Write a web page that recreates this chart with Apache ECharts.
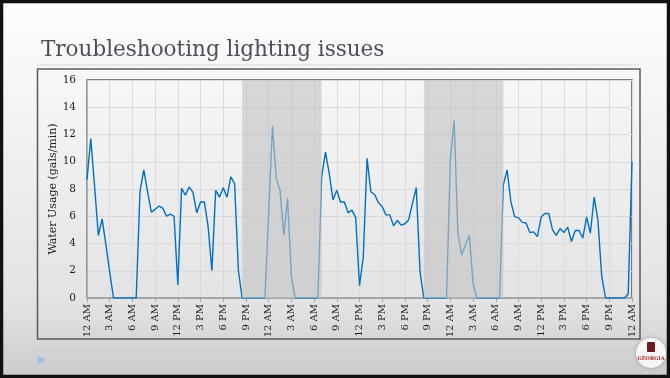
<!DOCTYPE html>
<html>
<head>
<meta charset="utf-8">
<script src="https://cdn.jsdelivr.net/npm/echarts@6.0.0/dist/echarts.min.js"></script>
<style>
  html, body { margin: 0; padding: 0; }
  #chart { width: 670px; height: 378px; }
</style>
</head>
<body>
<div id="chart"></div>
<script>
// half-hour readings over three days, 12 AM to 12 AM
const usage = [
  8.7, 11.7, 8.2, 4.6, 5.8, 3.9, 1.9, 0, 0, 0, 0, 0,
  0, 0, 7.8, 9.4, 7.8, 6.3, 6.5, 6.75, 6.6, 6.0, 6.15, 6.0,
  0.95, 8.05, 7.55, 8.15, 7.75, 6.25, 7.05, 7.05, 5.25, 2.0, 7.9, 7.4,
  8.1, 7.4, 8.9, 8.4, 2.0, 0, 0, 0, 0, 0, 0, 0,
  6.2, 12.6, 8.8, 7.9, 4.6, 7.3, 1.6, 0, 0, 0, 0, 0,
  0, 0, 8.9, 10.7, 9.15, 7.2, 7.9, 7.05, 7.05, 6.25, 6.45, 5.9,
  0.9, 3.0, 10.25, 7.8, 7.6, 7.0, 6.7, 6.1, 6.1, 5.3, 5.7, 5.35,
  5.45, 5.75, 6.95, 8.1, 1.9, 0, 0, 0, 0, 0, 0, 0,
  10.1, 13.05, 4.75, 3.15, 3.9, 4.6, 1.1, 0, 0, 0, 0, 0,
  0, 0, 8.3, 9.4, 7.05, 5.95, 5.9, 5.55, 5.5, 4.8, 4.85, 4.5,
  5.95, 6.2, 6.2, 5.0, 4.6, 5.1, 4.8, 5.2, 4.15, 4.95, 4.95, 4.4,
  5.95, 4.75, 7.4, 5.7, 1.6, 0, 0, 0, 0, 0, 0, 0.3,
  10.0
];

const tickLabels = ['12 AM', '3 AM', '6 AM', '9 AM', '12 PM', '3 PM', '6 PM', '9 PM'];

// shaded night periods (category index from, to)
const nightSpans = [[41.2, 61.6], [88.8, 109.6]];

// category per half hour
const categories = usage.map((v, i) => {
  const h = Math.floor(i / 2) % 24;
  const m = i % 2 ? ':30' : '';
  const hh = h % 12 === 0 ? 12 : h % 12;
  return hh + m + (h < 12 ? ' AM' : ' PM');
});

const serif = 'DejaVu Serif';
const chart = echarts.init(document.getElementById('chart'));

const option = {
  animation: false,
  backgroundColor: {
    type: 'linear', x: 0, y: 0, x2: 0, y2: 1,
    colorStops: [
      { offset: 0, color: '#fdfdfd' },
      { offset: 0.2, color: '#f7f7f7' },
      { offset: 0.8, color: '#e3e3e3' },
      { offset: 1, color: '#cbcbcb' }
    ]
  },
  title: {
    text: 'Troubleshooting lighting issues',
    left: 41,
    top: 39,
    padding: 0,
    textStyle: { fontFamily: serif, fontSize: 21.5, fontWeight: 'normal', color: '#4e4e5a' }
  },
  graphic: [
    { type: 'rect', shape: { x: 1.5, y: 1.5, width: 667, height: 375 },
      style: { fill: 'none', stroke: '#111', lineWidth: 3.5 } },
    { type: 'line', shape: { x1: 37, y1: 65, x2: 640, y2: 65 },
      style: { stroke: '#c5cdd8', lineWidth: 1.5, lineDash: [1.5, 1.5] } },
    { type: 'rect', shape: { x: 37.5, y: 69, width: 602.5, height: 270 },
      style: { fill: 'none', stroke: '#5a5a5a', lineWidth: 1.5 } },
    { type: 'line', shape: { x1: 37, y1: 350, x2: 636, y2: 350 },
      style: { stroke: '#b3c6dc', lineWidth: 1, lineDash: [2, 2] } },
    { type: 'polygon', shape: { points: [[38, 356], [46, 360], [38, 364]] },
      style: { fill: '#9dc3e6' } },
    { type: 'circle', shape: { cx: 651, cy: 353, r: 15 },
      style: { fill: '#f6f6f6', shadowBlur: 4, shadowColor: 'rgba(0,0,0,0.25)' } },
    { type: 'rect', shape: { x: 647, y: 342, width: 8, height: 10, r: 1 },
      style: { fill: '#6b1a20' } },
    { type: 'text', x: 651, y: 356,
      style: { text: 'GEORGIA', fontSize: 5, fontWeight: 'bold', fill: '#b3262e',
        align: 'center', fontFamily: serif } }
  ],
  grid: {
    left: 87, right: 38, top: 80, bottom: 80,
    show: true, borderColor: '#555', borderWidth: 1.5
  },
  xAxis: {
    type: 'category',
    data: categories,
    boundaryGap: false,
    axisLine: { lineStyle: { color: '#a6a6a6', width: 2 } },
    axisTick: { interval: 5, length: 4, lineStyle: { color: '#a6a6a6' } },
    axisLabel: {
      interval: 5, rotate: 90, margin: 6,
      fontFamily: serif, fontSize: 10, color: '#222',
      formatter: (v, i) => tickLabels[(i / 6) % 8]
    },
    splitLine: { show: true, interval: 5, lineStyle: { color: '#dadada' } }
  },
  yAxis: {
    type: 'value',
    min: 0, max: 16, interval: 2,
    name: 'Water Usage (gals/min)',
    nameLocation: 'middle',
    nameGap: 28,
    nameMoveOverlap: false,
    nameTextStyle: { fontFamily: serif, fontSize: 11, color: '#222' },
    axisLine: { show: true, lineStyle: { color: '#a6a6a6', width: 1.5 } },
    axisTick: { show: false },
    axisLabel: { fontFamily: serif, fontSize: 10.5, color: '#222', margin: 11 },
    splitLine: { lineStyle: { color: '#dadada' } }
  },
  series: [
    {
      name: 'Water usage',
      type: 'line',
      data: usage,
      symbol: 'none',
      lineStyle: { color: '#0070c0', width: 1.4 }
    },
    {
      name: 'Night',
      type: 'line',
      data: [],
      markArea: {
        silent: true,
        z: 10,
        itemStyle: { color: 'rgba(196,196,196,0.62)' },
        data: nightSpans.map(s => [{ xAxis: s[0] }, { xAxis: s[1] }])
      }
    }
  ]
};

chart.setOption(option);
</script>
</body>
</html>
